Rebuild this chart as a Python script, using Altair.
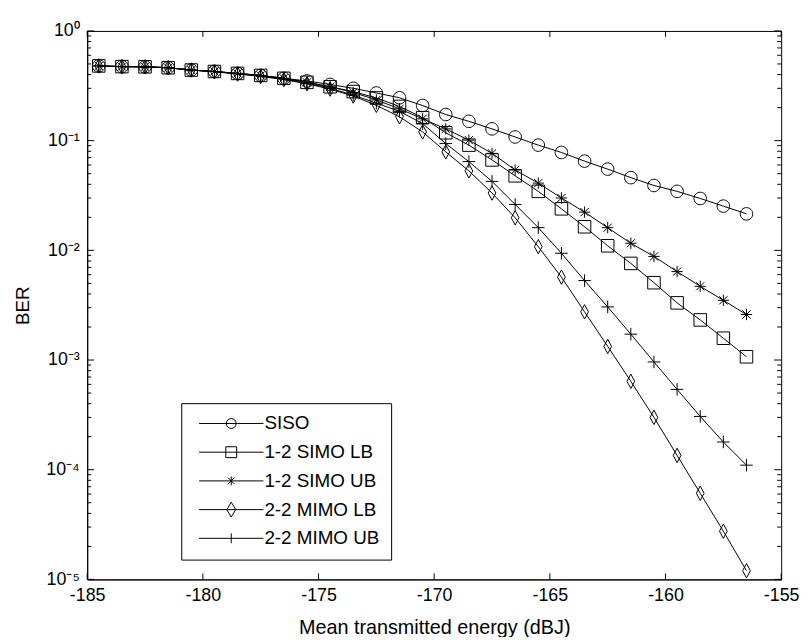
import altair as alt
import pandas as pd

# ---------------- data ----------------
energy = [-184.5, -183.5, -182.5, -181.5, -180.5, -179.5, -178.5, -177.5, -176.5, -175.5,
          -174.5, -173.5, -172.5, -171.5, -170.5, -169.5, -168.5, -167.5, -166.5, -165.5,
          -164.5, -163.5, -162.5, -161.5, -160.5, -159.5, -158.5, -157.5, -156.5]

siso = [0.48, 0.473, 0.471, 0.462, 0.44, 0.427, 0.41, 0.393, 0.37,
        0.35, 0.325, 0.30, 0.272, 0.246, 0.209, 0.173, 0.150, 0.128, 0.108, 0.091,
        0.078, 0.065, 0.055, 0.046, 0.039, 0.0345, 0.0297, 0.0253, 0.0215]
simo_lb = [0.48, 0.473, 0.471, 0.462, 0.44, 0.427, 0.41, 0.393, 0.37,
           0.34, 0.31, 0.28, 0.245, 0.205, 0.162, 0.118, 0.091, 0.0667, 0.0478, 0.0345,
           0.0239, 0.0164, 0.0110, 0.0076, 0.00507, 0.00332, 0.00232, 0.00158, 0.00107]
simo_ub = [0.48, 0.473, 0.471, 0.462, 0.44, 0.427, 0.41, 0.393, 0.37,
           0.34, 0.31, 0.275, 0.235, 0.195, 0.158, 0.128, 0.101, 0.0765, 0.054, 0.041,
           0.030, 0.0223, 0.0161, 0.0116, 0.0088, 0.0064, 0.0047, 0.0035, 0.0026]
mimo_lb = [0.48, 0.473, 0.471, 0.462, 0.44, 0.425, 0.405, 0.385, 0.36,
           0.33, 0.295, 0.255, 0.21, 0.165, 0.12, 0.079, 0.053, 0.0333, 0.0198, 0.0108,
           0.0057, 0.00275, 0.00133, 0.00064, 0.0003, 0.000135, 0.000061, 0.0000275, 0.000012]
mimo_ub = [0.48, 0.473, 0.471, 0.462, 0.44, 0.426, 0.407, 0.388, 0.365,
           0.335, 0.30, 0.26, 0.22, 0.185, 0.143, 0.094, 0.0644, 0.0425, 0.0262, 0.0161,
           0.0094, 0.0053, 0.00305, 0.00172, 0.00096, 0.00054, 0.000306, 0.000179, 0.00011]

names = ["SISO", "1-2 SIMO LB", "1-2 SIMO UB", "2-2 MIMO LB", "2-2 MIMO UB"]

x_ticks = [-185, -180, -175, -170, -165, -160, -155]
y_major = [1, 0.1, 0.01, 0.001, 0.0001, 0.00001]
y_minor = [2e-5, 3e-5, 4e-5, 5e-5, 6e-5, 7e-5, 8e-5, 9e-5,
           2e-4, 3e-4, 4e-4, 5e-4, 6e-4, 7e-4, 8e-4, 9e-4,
           2e-3, 3e-3, 4e-3, 5e-3, 6e-3, 7e-3, 8e-3, 9e-3,
           2e-2, 3e-2, 4e-2, 5e-2, 6e-2, 7e-2, 8e-2, 9e-2,
           0.2, 0.3, 0.4, 0.5, 0.6, 0.7, 0.8, 0.9]

# ---------------- build tables ----------------
rows = []
for name, vals in zip(names, [siso, simo_lb, simo_ub, mimo_lb, mimo_ub]):
    for x, v in zip(energy, vals):
        rows.append({"energy": x, "BER": v, "series": name})
df = pd.DataFrame(rows)

W, H = 701, 554
FONT = "Liberation Sans"

circle = "M1,0A1,1,0,1,1,-1,0A1,1,0,1,1,1,0Z"
square = "M-1,-1L1,-1L1,1L-1,1Z"
star = "M-0.9,0L0.9,0M0,-0.9L0,0.9M-0.65,-0.65L0.65,0.65M-0.65,0.65L0.65,-0.65"
diamond = "M0,-1.15L0.62,0L0,1.15L-0.62,0Z"
plus = "M-1,0L1,0M0,-1L0,1"
marker_paths = [circle, square, star, diamond, plus]

ln = "M-6.5,0L6.5,0"
legend_paths = [
    ln + "M1,0A1,1,0,1,1,-1,0A1,1,0,1,1,1,0Z",
    ln + "M-1.1,-1.1L1.1,-1.1L1.1,1.1L-1.1,1.1Z",
    ln + "M0,-0.9L0,0.9M-0.65,-0.65L0.65,0.65M-0.65,0.65L0.65,-0.65",
    ln + "M0,-1.5L0.9,0L0,1.5L-0.9,0Z",
    ln + "M0,-1L0,1",
]

xs = alt.Scale(domain=[-185, -155], nice=False, zero=False)
ys = alt.Scale(type="log", domain=[1e-5, 1], nice=False)

x_axis = alt.Axis(values=x_ticks, labelExpr="'' + datum.value", ticks=False, tickSize=0,
                  grid=False, labelFont=FONT, labelFontSize=18, labelPadding=7,
                  title="Mean transmitted energy (dBJ)", titleFont=FONT, titleFontSize=20,
                  titleFontWeight="normal", titlePadding=14, labelFlush=False)
y_axis = alt.Axis(values=y_major,
                  labelExpr="'10' + ['\u2070','\u207b\u00b9','\u207b\u00b2','\u207b\u00b3','\u207b\u2074','\u207b\u2075'][round(-log(datum.value)/LN10)]",
                  ticks=False, tickSize=0, grid=False, labelFont=FONT, labelFontSize=18,
                  labelPadding=8, title="BER", titleFont=FONT, titleFontSize=19,
                  titleFontWeight="normal", titlePadding=14, labelFlush=False)

X = alt.X("energy:Q", scale=xs, axis=x_axis)
Y = alt.Y("BER:Q", scale=ys, axis=y_axis)

lines = alt.Chart(df).mark_line(color="black", strokeWidth=1).encode(
    x=X, y=Y, detail="series:N")

points = alt.Chart(df).mark_point(filled=False, color="black", strokeWidth=1, size=160,
                                  opacity=1).encode(
    x=X, y=Y,
    shape=alt.Shape("series:N", scale=alt.Scale(domain=names, range=marker_paths), legend=None))

legend_layer = alt.Chart(df).transform_filter("false").mark_point(
    filled=False, color="black", strokeWidth=1, opacity=1).encode(
    x=X, y=Y,
    shape=alt.Shape("series:N", scale=alt.Scale(domain=names, range=legend_paths),
                    legend=alt.Legend(orient="none", legendX=95, legendY=376, title=None,
                                      direction="vertical", fillColor="white",
                                      strokeColor="black", padding=11, symbolSize=100,
                                      symbolStrokeWidth=1, symbolStrokeColor="black",
                                      symbolFillColor="transparent",
                                      labelFont=FONT, labelFontSize=19, labelColor="black",
                                      rowPadding=9, symbolOffset=30, labelOffset=24,
                                      labelLimit=400, cornerRadius=0)))

# inward ticks, drawn through the same scales
ymaj_df = pd.DataFrame({"BER": y_major})
ymin_df = pd.DataFrame({"BER": y_minor})
xt_df = pd.DataFrame({"energy": x_ticks})

def yticks(data, length):
    left = alt.Chart(data).mark_rule(color="black", strokeWidth=1).encode(
        y=alt.Y("BER:Q", scale=ys), x=alt.value(0), x2=alt.value(length))
    right = alt.Chart(data).mark_rule(color="black", strokeWidth=1).encode(
        y=alt.Y("BER:Q", scale=ys), x=alt.value(W - length), x2=alt.value(W))
    return [left, right]

xtick_bottom = alt.Chart(xt_df).mark_rule(color="black", strokeWidth=1).encode(
    x=alt.X("energy:Q", scale=xs), y=alt.value(H - 6), y2=alt.value(H))
xtick_top = alt.Chart(xt_df).mark_rule(color="black", strokeWidth=1).encode(
    x=alt.X("energy:Q", scale=xs), y=alt.value(0), y2=alt.value(6))

layers = ([lines, points, legend_layer] + yticks(ymaj_df, 7) + yticks(ymin_df, 4) +
          [xtick_bottom, xtick_top])

chart = alt.layer(*layers).resolve_scale(shape="independent").properties(
    width=W, height=H,
    autosize=alt.AutoSizeParams(type="none"),
    padding={"left": 80, "top": 20, "right": 19, "bottom": 55},
    background="white",
).configure_view(stroke="black", strokeWidth=1).configure_axis(
    domainColor="black", domainWidth=1, labelColor="black", titleColor="black")

chart.save("out.html", embed_options={"renderer": "svg", "actions": False})
